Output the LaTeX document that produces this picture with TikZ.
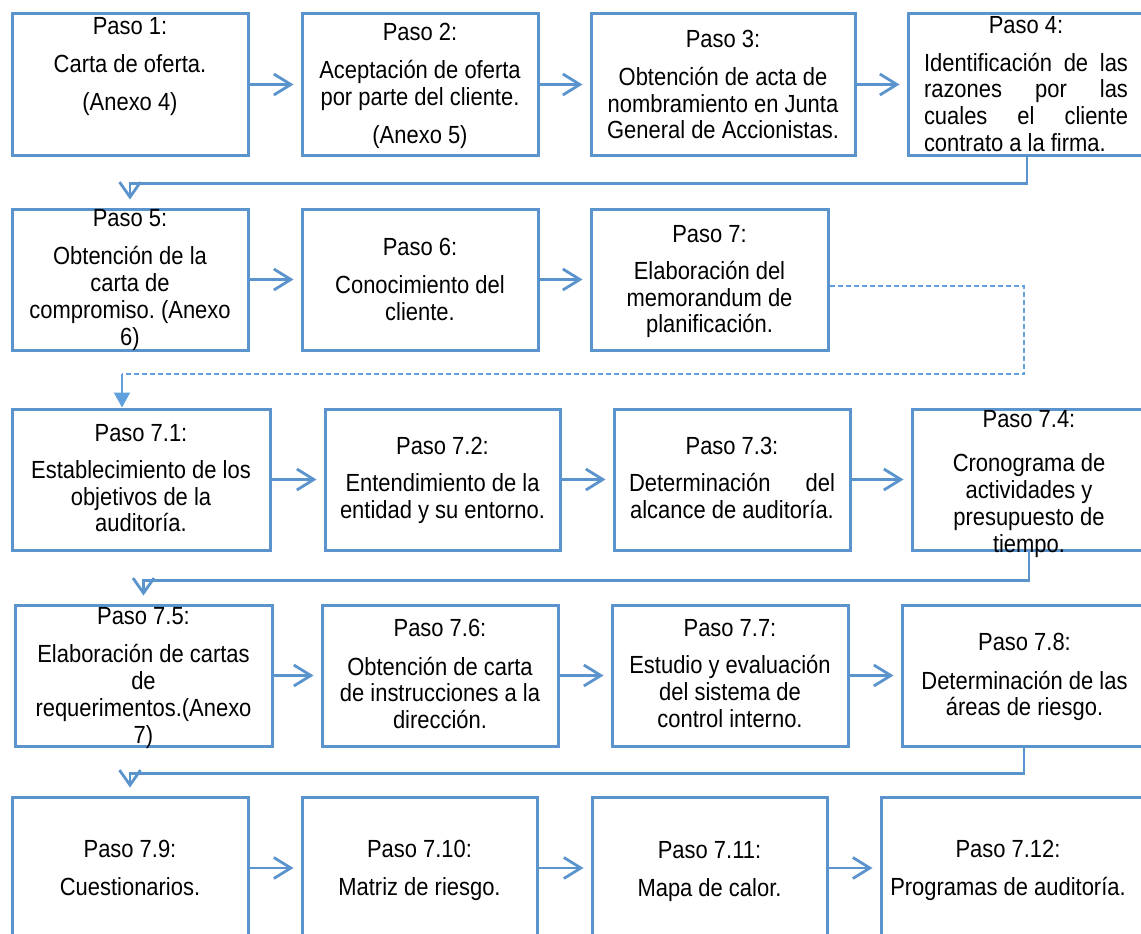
\documentclass[tikz,border=0pt]{standalone}
\usepackage{fontspec}
\setmainfont{Liberation Sans}[FakeStretch=0.885]
\usetikzlibrary{arrows.meta,calc}
\definecolor{ln}{RGB}{91,148,205}
\definecolor{dl}{RGB}{96,160,222}
\tikzset{
  box/.style={draw=ln, line width=3pt, rectangle, inner sep=0pt},
  txt/.style={anchor=base, inner sep=0pt, text width=#1, align=flush center,
    font=\fontsize{24.8}{26.8}\selectfont,
    execute at begin node={\spaceskip=0pt\xspaceskip=0pt\frenchspacing}},
  arr/.style={draw=ln, line width=2.8pt,
    -{Straight Barb[length=17pt,width=21pt]}, shorten >=7pt},
  conn/.style={draw=ln, line width=2.8pt,
    -{Straight Barb[length=15pt,width=21pt]}, shorten >=8pt},
  dsh/.style={draw=dl, line width=1.4pt, dash pattern=on 5pt off 3pt},
  tri/.style={draw=dl, line width=2pt, -{Triangle[length=15pt,width=16pt]}}
}
\newcommand{\bx}[5]{\node[box, minimum width=#4pt-#2pt, minimum height=#5pt-#3pt]
  (#1) at ({(#2+#4)/2},{(#3+#5)/2}) {};}
\newcommand{\jl}[1]{\makebox[\linewidth]{#1}}
\begin{document}
\begin{tikzpicture}[x=1pt,y=-1pt]
\useasboundingbox (0,0) rectangle (1141,934);
\clip (0,0) rectangle (1141,934);
% row 1
\bx{b1}{12}{14}{248}{155}
\bx{b2}{302}{14}{538}{155}
\bx{b3}{591}{14}{855}{155}
\bx{b4}{908}{14}{1146}{155}
% row 2
\bx{b5}{12}{209}{248}{350}
\bx{b6}{302}{209}{538}{350}
\bx{b7}{591}{209}{828}{350}
% row 3
\bx{b71}{12}{409}{270}{550}
\bx{b72}{325}{409}{560}{550}
\bx{b73}{614}{409}{850}{550}
\bx{b74}{912}{409}{1146}{550}
% row 4
\bx{b75}{15}{605}{272}{746}
\bx{b76}{322}{605}{558}{746}
\bx{b77}{612}{605}{848}{746}
\bx{b78}{902}{605}{1146}{746}
% row 5
\bx{b79}{12}{797}{248}{939}
\bx{b710}{302}{797}{537}{939}
\bx{b711}{592}{797}{827}{939}
\bx{b712}{881}{797}{1146}{939}

% texts
\node[txt=230pt] (t1) at (130,34.3) {Paso 1:\\[11pt]Carta de oferta.\\[12pt](Anexo 4)};
\node[txt=230pt] (t2) at (420,40.7) {Paso 2:\\[11.5pt]Aceptación de oferta\\por parte del cliente.\\[11pt](Anexo 5)};
\node[txt=250pt] (t3) at (723,48) {Paso 3:\\[10.5pt]Obtención de acta de\\nombramiento en Junta\\General de Accionistas.};
\node[txt=204pt] (t4) at (1026,33.3) {Paso 4:\\[11pt]\jl{Identificación\hfill de\hfill las}\\\jl{razones\hfill por\hfill las}\\\jl{cuales\hfill el\hfill cliente}\\\makebox[\linewidth][l]{contrato a la firma.}};
\node[txt=230pt] (t5) at (130,226) {Paso 5:\\[12pt]Obtención de la\\carta de\\compromiso. (Anexo\\6)};
\node[txt=230pt] (t6) at (420,255) {Paso 6:\\[11.5pt]Conocimiento del\\cliente.};
\node[txt=230pt] (t7) at (709.5,242) {Paso 7:\\[10.5pt]Elaboración del\\memorandum de\\planificación.};
\node[txt=250pt] (t71) at (141,441) {Paso 7.1:\\[10.5pt]Establecimiento de los\\objetivos de la\\auditoría.};
\node[txt=230pt] (t72) at (442.5,454) {Paso 7.2:\\[11pt]Entendimiento de la\\entidad y su entorno.};
\node[txt=206pt] (t73) at (732,454) {Paso 7.3:\\[11pt]\jl{Determinación\hfill del}\\alcance de auditoría.};
\node[txt=230pt] (t74) at (1029,427) {Paso 7.4:\\[18pt]Cronograma de\\actividades y\\presupuesto de\\tiempo.};
\node[txt=250pt] (t75) at (143.5,624) {Paso 7.5:\\[12pt]Elaboración de cartas\\de\\requerimentos.(Anexo\\7)};
\node[txt=230pt] (t76) at (440,636.7) {Paso 7.6:\\[11.5pt]Obtención de carta\\de instrucciones a la\\dirección.};
\node[txt=230pt] (t77) at (730,636) {Paso 7.7:\\[11pt]Estudio y evaluación\\del sistema de\\control interno.};
\node[txt=236pt] (t78) at (1024.5,650.7) {Paso 7.8:\\[11.5pt]Determinación de las\\áreas de riesgo.};
\node[txt=230pt] (t79) at (130,857) {Paso 7.9:\\[11.5pt]Cuestionarios.};
\node[txt=230pt] (t710) at (419.5,857) {Paso 7.10:\\[11.5pt]Matriz de riesgo.};
\node[txt=230pt] (t711) at (709.5,858) {Paso 7.11:\\[11.5pt]Mapa de calor.};
\node[txt=260pt] (t712) at (1008,857) {Paso 7.12:\\[11.5pt]Programas de auditoría.};

% horizontal arrows
\draw[arr] (b1.east) -- (b2.west);
\draw[arr] (b2.east) -- (b3.west);
\draw[arr] (b3.east) -- (b4.west);
\draw[arr] (b5.east) -- (b6.west);
\draw[arr] (b6.east) -- (b7.west);
\draw[arr] (b71.east) -- (b72.west);
\draw[arr] (b72.east) -- (b73.west);
\draw[arr] (b73.east) -- (b74.west);
\draw[arr] (b75.east) -- (b76.west);
\draw[arr] (b76.east) -- (b77.west);
\draw[arr] (b77.east) -- (b78.west);
\draw[arr] (b79.east) -- (b710.west);
\draw[arr] (b710.east) -- (b711.west);
\draw[arr] (b711.east) -- (b712.west);

% row connectors
\draw[conn] (b4.south) -- ++(0,27) -| (b5.north);
\draw[conn] (b74.south) -- ++(0,29) -| (b75.north);
\draw[conn] (b78.south) -- ++(0,26) -| (b79.north);

% dashed connector
\coordinate (dA) at (1024,374);
\coordinate (dB) at (122,374);
\draw[dsh] ($(b7.east)+(0,6.5)$) -| (dA) -- (dB);
\draw[tri] (dB) -- (dB |- b71.north);
\end{tikzpicture}
\end{document}
